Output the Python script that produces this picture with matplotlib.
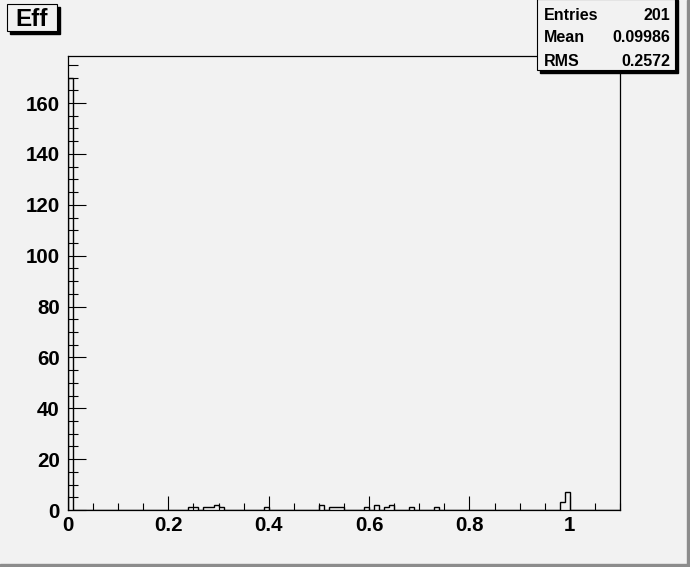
import numpy as np
import matplotlib
matplotlib.use('Agg')
import matplotlib.pyplot as plt
from matplotlib.patches import Rectangle
from matplotlib.ticker import MultipleLocator, FuncFormatter

# histogram contents (bin width 0.01, range 0 - 1.1)
bin_low = [0.00, 0.24, 0.25, 0.27, 0.28, 0.29, 0.30, 0.39, 0.50, 0.52,
           0.53, 0.54, 0.59, 0.61, 0.63, 0.64, 0.68, 0.73, 0.98, 0.99]
bin_count = [170, 1, 1, 1, 1, 2, 1, 1, 2, 1,
             1, 1, 1, 2, 1, 2, 1, 1, 3, 7]
n_bins = 110
x_min, x_max = 0.0, 1.1

stat_names = ["Entries", "Mean", "RMS"]
stat_values = ["201", "0.09986", "0.2572"]
title = "Eff"

W, H = 690, 567
BG = '#f2f2f2'
plt.rcParams['font.family'] = ['Liberation Sans', 'DejaVu Sans']


def fx(x):
    return x / W


def fy(y):
    return 1 - y / H


edges = np.linspace(x_min, x_max, n_bins + 1)
counts = np.zeros(n_bins)
for lo, c in zip(bin_low, bin_count):
    counts[int(round(lo / 0.01))] = c

fig = plt.figure(figsize=(W / 100, H / 100), dpi=100, facecolor=BG)
ax = fig.add_axes([fx(68), fy(510), 552 / W, 454 / H])
ax.set_facecolor(BG)

ax.stairs(counts, edges, baseline=0, fill=False, color='black', lw=1.0)

ax.set_xlim(x_min, x_max)
ax.set_ylim(0, 170 * 1.05)

ax.xaxis.set_major_locator(MultipleLocator(0.2))
ax.xaxis.set_minor_locator(MultipleLocator(0.05))
ax.yaxis.set_major_locator(MultipleLocator(20))
ax.yaxis.set_minor_locator(MultipleLocator(5))
fmt = FuncFormatter(lambda v, p: f"{v:g}")
ax.xaxis.set_major_formatter(fmt)
ax.yaxis.set_major_formatter(fmt)

ax.tick_params(axis='x', which='major', direction='in', length=10, width=0.8,
               labelsize=14.8, pad=4)
ax.tick_params(axis='x', which='minor', direction='in', length=5, width=0.8)
ax.tick_params(axis='y', which='major', direction='in', length=13, width=0.8,
               labelsize=14.8, pad=6)
ax.tick_params(axis='y', which='minor', direction='in', length=7, width=0.8)
for lab in ax.get_xticklabels() + ax.get_yticklabels():
    lab.set_fontweight('bold')
for sp in ax.spines.values():
    sp.set_linewidth(0.9)
    sp.set_color('black')

# canvas bevel
fig.patches.append(Rectangle((fx(W - 3), 0), 3 / W, 1, transform=fig.transFigure,
                             color='#8c8c8c', zorder=0))
fig.patches.append(Rectangle((0, 0), 1, 3 / H, transform=fig.transFigure,
                             color='#8c8c8c', zorder=0))

# title box with shadow
fig.patches.append(Rectangle((fx(10), fy(34)), 50 / W, 27 / H, transform=fig.transFigure,
                             facecolor='black', edgecolor='black', zorder=5))
fig.patches.append(Rectangle((fx(7), fy(31)), 50 / W, 27 / H, transform=fig.transFigure,
                             facecolor=BG, edgecolor='black', lw=0.8, zorder=6))
fig.text(fx(32), fy(19), title, ha='center', va='center', fontsize=17.5,
         fontweight='bold', zorder=7)

# stats box with shadow
fig.patches.append(Rectangle((fx(540), fy(73)), 138 / W, 73 / H, transform=fig.transFigure,
                             facecolor='black', edgecolor='black', zorder=5))
fig.patches.append(Rectangle((fx(537), fy(70)), 138 / W, 71 / H, transform=fig.transFigure,
                             facecolor=BG, edgecolor='black', lw=0.8, zorder=6))
row_y = [15, 38, 62]
for name, val, ry in zip(stat_names, stat_values, row_y):
    fig.text(fx(544), fy(ry), name, ha='left', va='center', fontsize=11.5,
             fontweight='bold', zorder=7)
    fig.text(fx(670), fy(ry), val, ha='right', va='center', fontsize=11.5,
             fontweight='bold', zorder=7)

fig.savefig('out.png', dpi=100, facecolor=BG)
